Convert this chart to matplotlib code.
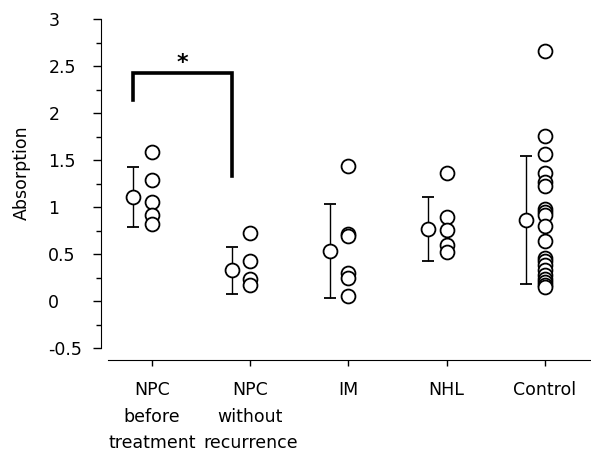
import matplotlib
matplotlib.use('Agg')
from matplotlib import pyplot
from matplotlib.ticker import MultipleLocator
import numpy

categories = ['NPC\nbefore\ntreatment', 'NPC\nwithout\nrecurrence', 'IM', 'NHL', 'Control']

# individual absorption values
values = [
    [1.59, 1.29, 1.05, 0.92, 0.82],
    [0.72, 0.43, 0.23, 0.17],
    [1.44, 0.71, 0.69, 0.30, 0.25, 0.05],
    [1.36, 0.89, 0.76, 0.60, 0.52],
    [2.66, 1.76, 1.57, 1.36, 1.27, 1.23, 0.98, 0.95, 0.92, 0.80,
     0.64, 0.46, 0.43, 0.38, 0.33, 0.28, 0.24, 0.20, 0.17, 0.15],
]

# group mean and SD
means = [1.11, 0.33, 0.53, 0.77, 0.86]
sds = [0.32, 0.25, 0.50, 0.34, 0.68]

yticks = [-0.5, 0, 0.5, 1, 1.5, 2, 2.5, 3]
ytick_labels = ['-0.5', '0', '0.5', '1', '1.5', '2', '2.5', '3']

# significance bracket
bracket_top = 2.43
bracket_left_low = 2.14
bracket_right_low = 1.33


def build_figure():
    figure = pyplot.figure(figsize=(5.91, 4.54), dpi=100)
    ax = figure.add_axes([0.171, 0.207, 0.827, 0.761])

    x = numpy.arange(1, len(categories) + 1)
    offset = 0.19

    for i, group in enumerate(values):
        ax.plot([x[i]] * len(group), group, linestyle='none', marker='o',
                markersize=10, markerfacecolor='white', markeredgecolor='black',
                markeredgewidth=1.3, zorder=3)

    ax.errorbar(x - offset, means, yerr=sds, fmt='o', markersize=10,
                markerfacecolor='white', markeredgecolor='black',
                markeredgewidth=1.3, ecolor='black', elinewidth=1.0,
                capsize=4, capthick=1.0, zorder=3)

    # bracket between the two NPC groups
    bx = [x[0] - offset, x[0] - offset, x[1] - offset, x[1] - offset]
    by = [bracket_left_low, bracket_top, bracket_top, bracket_right_low]
    ax.plot(bx, by, color='black', linewidth=2.6, solid_joinstyle='miter', zorder=2)
    ax.text((bx[0] + bx[2]) / 2, bracket_top, '*', ha='center', va='bottom',
            fontsize=16, fontweight='bold')

    ax.set_xlim(0.48, 5.46)
    ax.set_ylim(-0.627, 3.05)
    ax.spines['top'].set_visible(False)
    ax.spines['right'].set_visible(False)
    ax.spines['left'].set_bounds(-0.5, 3)
    ax.spines['bottom'].set_bounds(0.55, 5.46)

    ax.yaxis.set_minor_locator(MultipleLocator(0.25))
    ax.set_yticks(yticks)
    ax.set_yticklabels(ytick_labels, ha='left')
    ax.tick_params(axis='y', which='major', length=6, width=1, pad=32, labelsize=12.5)
    ax.tick_params(axis='y', which='minor', length=3.5, width=1)

    ax.set_xticks(x)
    ax.set_xticklabels(categories, linespacing=1.62, va='top')
    ax.tick_params(axis='x', length=4, width=1, pad=11, labelsize=12.5)

    figure.text(22 / 591, 0.62, 'Absorption', rotation=90, ha='center', va='center',
                fontsize=12.5)

    figure.savefig('out.png', dpi=100)


if __name__ == '__main__':
    build_figure()
